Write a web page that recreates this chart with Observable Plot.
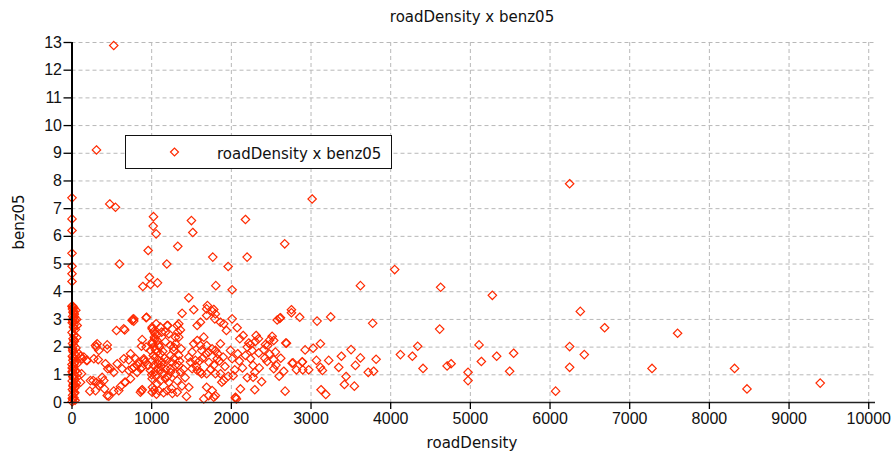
<!DOCTYPE html>
<html><head><meta charset="utf-8">
<script src="https://cdn.jsdelivr.net/npm/d3@7"></script>
<script src="https://cdn.jsdelivr.net/npm/@observablehq/plot@0.6"></script>
<style>
body{margin:0;background:#fff;}
#wrap{position:relative;width:896px;height:459px;overflow:hidden;}
.t{position:absolute;font-family:"DejaVu Sans",sans-serif;font-size:15px;line-height:16px;color:#111;white-space:nowrap;}
#legend{position:absolute;left:125px;top:135px;width:265px;height:32px;border:1.5px solid #111;background:#fff;}
</style></head><body><div id="wrap"></div>
<script>
const chartTitle = "roadDensity x benz05";
const xLabel = "roadDensity";
const yLabel = "benz05";
const seriesName = "roadDensity x benz05";
const xTicks = [0,1000,2000,3000,4000,5000,6000,7000,8000,9000,10000];
const yTicks = [0,1,2,3,4,5,6,7,8,9,10,11,12,13];

const roadDensity = [
 524,307,474,546,596,1023,1019,1056,956,972,889,985,1073,1190,1328,1499,1516,1767,1805,1960,2010,1466,2177,2198,2670,1700,1528,1779,3014,6246,4050,3620,4627,5276,6380,2754,
 0,0,0,0,0,0,0,0,
 2754,2858,3076,3247,2616,3774,4615,2683,2926,3026,3118,3503,3381,3620,3817,3068,3222,2775,2892,2658,2817,2896,2971,3118,3143,3348,3557,3440,3718,3786,3419,3544,3126,3185,2675,
 4122,4272,4339,4406,4708,4758,4971,4971,5109,5138,5330,5493,5543,6070,6246,6246,6430,6685,7601,7280,8316,8472,9391,
 2607,2575,2073,2148,2106,2311,2218,2240,2512,2482,2532,2428,1989,2080,2177,2261,2344,2407,2457,2553,2240,2273,2449,2532,2532,2294,2273,2023,2114,2294,2051,2763,2888,2692,2064,
 224,266,358,304,337,442,329,420,449,379,408,462,524,107,182,65,119,107,558,662,763,775,931,587,662,713,713,775,818,872,901,872,931,881,859,
 1006,1026,1056,1069,1034,1069,1006,1194,1173,1089,1173,1277,1327,1361,1382,1320,
 1690,1759,1800,1792,1863,1905,1690,1612,1571,2010,1938,1110,1006,1042,1125,1039,1006,1202,1340,1215,1299,
 1528,1571,1612,1654,1627,1690,1715,1759,1800,1830,1863,1897,1822,1508,1466,1487,1549,1508,1571,1612,1627,1600,1690,1800,1863,1905,1880,2010,2043,
 1690,1759,1800,1715,1654,1779,1437,1466,1320,1194,1089,1006,881,859,2051,
 442,295,232,400,337,304,609,671,734,818,755,881,630,567,650,734,797,838,901,922,956,85,128,149,191,274,316,295,442,483,524,755,775,650,935,
 1340,1299,1236,1370,1277,1340,1236,1194,1026,985,1069,1110,1047,1006,1089,1131,1026,1069,985,1110,1152,1047,1006,1110,1069,1173,1236,1299,1299,1236,1340,1361,1320,1215,
 1010,1030,1060,1150,1260,1000,1040,1080,1120,1160,1180,1200,1250,1280,1020,1050,1100,1140,1350,1400,1420,1380,1250,1560,1640,1680,1720,1740,1780,1850,1920,1960,
 2100,2140,2200,2350,2380,2420,2480,2560,2600,2620,2200,2300,2340,
 3,12,25,8,30,18,5,40,14,22,2,35,10,28,6,45,16,20,0,33,11,26,4,38,15,9,50,21,7,31,13,24,1,42,17,27,3,36,19,8,29,12,48,23,5,34,14,2,39,18,
 65,60,55,70,52,58,
 6,22,14,30,9,18,26,4,35,12,20,2,28,16,8,24
];
const benz05 = [
 12.89,9.12,7.17,7.05,5.0,6.71,6.37,6.09,5.49,4.52,4.19,4.26,4.32,5.0,5.64,6.57,6.14,5.25,4.22,4.91,4.07,3.78,6.61,5.25,5.73,3.5,3.35,3.36,7.35,7.9,4.8,4.22,4.16,3.87,3.29,3.35,
 7.39,6.63,6.21,5.39,4.92,4.65,4.37,3.47,
 3.24,3.08,2.94,3.09,3.06,2.86,2.65,2.15,1.9,1.96,2.12,1.91,1.67,1.61,1.56,1.52,1.52,1.43,1.47,1.13,1.18,1.18,1.18,1.27,1.16,1.27,1.34,0.94,1.09,1.13,0.65,0.59,0.46,0.29,0.41,
 1.73,1.67,2.03,1.23,1.32,1.40,1.09,0.79,2.08,1.48,1.67,1.13,1.78,0.41,2.02,1.27,1.73,2.70,2.50,1.23,1.23,0.49,0.70,
 3.04,2.98,2.70,2.42,2.30,2.42,2.15,2.09,2.39,2.26,2.24,2.09,1.88,1.76,1.70,1.88,1.79,1.91,2.06,1.82,1.58,1.34,1.48,1.54,1.22,1.09,0.91,0.97,0.49,0.46,0.16,1.42,1.46,2.14,0.13,
 0.41,0.79,0.67,2.0,1.88,2.08,1.55,1.40,1.22,0.91,0.49,0.23,0.41,1.67,1.52,1.40,1.04,0.73,2.6,2.62,3.0,2.94,3.06,0.43,0.73,1.54,1.16,1.27,1.34,0.43,1.52,2.03,2.0,2.27,1.22,
 2.72,2.56,2.84,2.45,2.36,2.24,2.12,2.78,2.54,2.08,2.2,2.0,2.54,2.62,3.22,2.78,
 3.38,3.3,3.2,3.02,2.9,2.84,3.14,2.9,2.78,3.02,2.6,2.72,2.66,2.48,2.54,2.3,2.18,2.78,2.84,2.48,2.36,
 2.12,2.24,2.06,2.36,1.88,2.06,1.82,1.94,1.88,1.76,2.12,1.64,1.58,1.82,1.64,1.46,1.52,1.22,1.16,1.10,1.04,1.50,1.04,1.04,1.04,0.8,0.73,1.58,1.18,
 0.55,0.43,0.25,0.25,0.13,0.19,0.22,0.55,0.37,0.43,0.43,0.37,0.46,0.37,0.19,
 0.25,0.43,0.79,0.79,0.61,0.73,0.58,0.73,0.86,1.09,1.22,1.27,1.22,1.40,1.58,1.76,1.58,1.46,1.58,1.46,1.34,1.76,1.58,1.64,1.52,1.58,2.12,2.06,1.94,1.22,1.09,2.96,3.02,2.66,3.08,
 2.36,2.12,2.06,1.94,1.88,1.70,1.70,1.52,2.0,1.88,1.82,1.76,1.64,1.52,1.52,1.46,1.34,1.22,1.16,1.16,1.04,0.97,0.86,0.79,0.67,0.86,1.10,1.04,1.34,1.22,1.34,1.10,0.79,0.73,
 0.55,0.45,0.30,0.35,0.33,1.0,1.1,1.4,1.3,1.6,1.2,0.95,1.45,1.6,1.7,1.9,2.0,1.85,1.5,1.2,0.9,0.6,0.5,1.3,1.6,1.75,1.45,1.2,1.35,1.5,1.3,0.95,
 1.5,1.25,0.9,1.25,0.75,1.6,1.75,1.35,0.95,1.6,2.0,2.2,2.3,
 0.03,0.11,0.17,0.26,0.33,0.41,0.47,0.56,0.63,0.69,0.78,0.84,0.93,1.01,1.07,1.16,1.22,1.31,1.37,1.44,1.53,1.58,1.67,1.74,1.83,1.89,1.97,2.06,2.13,2.21,2.3,2.42,2.53,2.64,2.73,2.81,2.88,2.97,3.04,3.11,3.19,3.26,3.33,3.41,3.49,0.52,0.95,1.25,0.08,2.9,
 2.78,2.35,0.7,1.05,1.7,3.0,
 3.38,3.22,3.45,3.1,2.95,3.3,2.7,0.15,0.36,0.6,0.88,1.12,1.4,1.62,1.95,2.25
];

const data = roadDensity.map((x, i) => ({x, y: benz05[i]}));
const tickFont = {fontFamily: "'Liberation Sans', Arial, sans-serif", fontSize: 16, fill: "#111"};

const chart = Plot.plot({
  width: 896, height: 459,
  marginLeft: 71.5, marginRight: 21, marginTop: 42, marginBottom: 57,
  style: {background: "#fff", color: "#111", fontFamily: "'Liberation Sans', Arial, sans-serif", fontSize: "16px"},
  x: {domain: [0, 10085], label: null},
  y: {domain: [0, 13], label: null},
  marks: [
    Plot.gridX(xTicks.slice(1), {stroke: "#b8b8b8", strokeOpacity: 1, strokeDasharray: "4,3"}),
    Plot.gridY(yTicks.slice(1), {stroke: "#b8b8b8", strokeOpacity: 1, strokeDasharray: "4,3"}),
    Plot.dot(data, {x: "x", y: "y", symbol: "diamond2", r: 3.8, stroke: "#ff2a00", strokeWidth: 1.2, fill: "none"}),
    Plot.ruleX([0], {stroke: "#000", strokeWidth: 2}),
    Plot.ruleY([0], {stroke: "#222", strokeWidth: 1.5}),
    Plot.axisX(xTicks, {tickSize: 7, tickPadding: 3, tickFormat: d3.format("d"), stroke: "#000", strokeWidth: 1.3, label: null, ...tickFont}),
    Plot.axisY(yTicks, {tickSize: 8, tickPadding: 2, tickFormat: d3.format("d"), stroke: "#000", strokeWidth: 1.3, label: null, ...tickFont})
  ]
});

const wrap = document.getElementById("wrap");
wrap.appendChild(chart);

function addText(txt, css) {
  const d = document.createElement("div");
  d.className = "t";
  d.textContent = txt;
  Object.assign(d.style, css);
  wrap.appendChild(d);
  return d;
}
addText(chartTitle, {left: "472px", top: "9px", transform: "translateX(-50%)"});
addText(xLabel, {left: "472px", top: "435px", transform: "translateX(-50%)"});
addText(yLabel, {left: "19px", top: "222px", transform: "translate(-50%,-50%) rotate(-90deg)"});

const lg = document.createElement("div");
lg.id = "legend";
lg.innerHTML = `<svg width="40" height="32" style="position:absolute;left:30px;top:0"><path d="M14.5,16 l4,-4 l4,4 l-4,4 z" fill="none" stroke="#ff2a00" stroke-width="1.2"/></svg>`;
wrap.appendChild(lg);
const lt = document.createElement("div");
lt.className = "t";
lt.textContent = seriesName;
Object.assign(lt.style, {left: "91px", top: "10px"});
lg.appendChild(lt);
</script></body></html>
